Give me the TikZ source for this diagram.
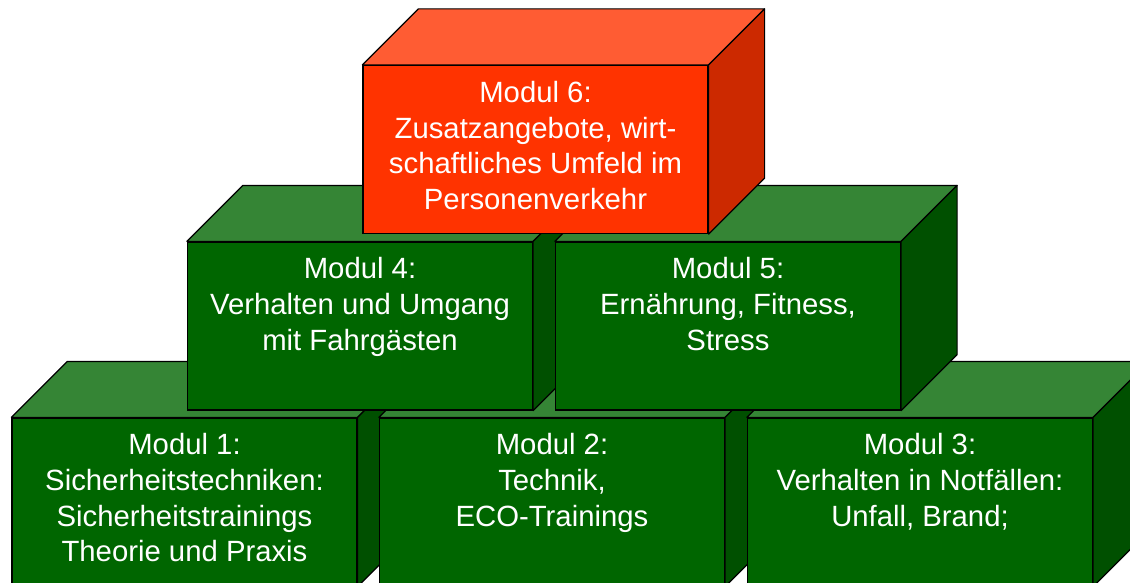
\documentclass[tikz,border=0pt]{standalone}
\usepackage{fontspec}
\setmainfont{Liberation Sans}
\definecolor{gfront}{RGB}{0,102,0}
\definecolor{gtop}{RGB}{53,133,53}
\definecolor{gside}{RGB}{0,80,0}
\definecolor{rfront}{RGB}{255,51,0}
\definecolor{rtop}{RGB}{255,92,51}
\definecolor{rside}{RGB}{204,41,0}
\tikzset{
  frontface/.style={draw=black, line width=1.2pt, rectangle, minimum width=345pt, minimum height=168pt, inner sep=0pt},
  face/.style={draw=black, line width=1.2pt, line join=round},
  modtext/.style={text=white, align=center, inner sep=0pt, anchor=north, font=\fontsize{29.3}{35.7}\selectfont},
}
\newcommand\modbox[6]{%
  \node[frontface, fill=#5] (#1) at #2 {};
  \filldraw[face, fill=#3] (#1.north west) -- ++(56,-56) -- ([shift={(56,-56)}]#1.north east) -- (#1.north east) -- cycle;
  \filldraw[face, fill=#4] (#1.north east) -- ++(56,-56) -- ([shift={(56,-56)}]#1.south east) -- (#1.south east) -- cycle;
  \node[modtext] (#1t) at ([yshift=-16pt]#1.north) {#6};
}
\begin{document}
\begin{tikzpicture}[x=1pt,y=-1pt]
\useasboundingbox (0,0) rectangle (1130,583);
\modbox{m1}{(184.5,502)}{gtop}{gside}{gfront}{Modul 1:\\Sicherheitstechniken:\\Sicherheitstrainings\\Theorie und Praxis}
\modbox{m2}{(552,502)}{gtop}{gside}{gfront}{Modul 2:\\Technik,\\ECO-Trainings}
\modbox{m3}{(920,502)}{gtop}{gside}{gfront}{Modul 3:\\Verhalten in Notfällen:\\Unfall, Brand;}
\modbox{m4}{(360,326)}{gtop}{gside}{gfront}{Modul 4:\\Verhalten und Umgang\\mit Fahrgästen}
\modbox{m5}{(728,326)}{gtop}{gside}{gfront}{Modul 5:\\Ernährung, Fitness,\\Stress}
\modbox{m6}{(535.5,149.5)}{rtop}{rside}{rfront}{Modul 6:\\Zusatzangebote, wirt-\\schaftliches Umfeld im\\Personenverkehr}
\end{tikzpicture}
\end{document}
